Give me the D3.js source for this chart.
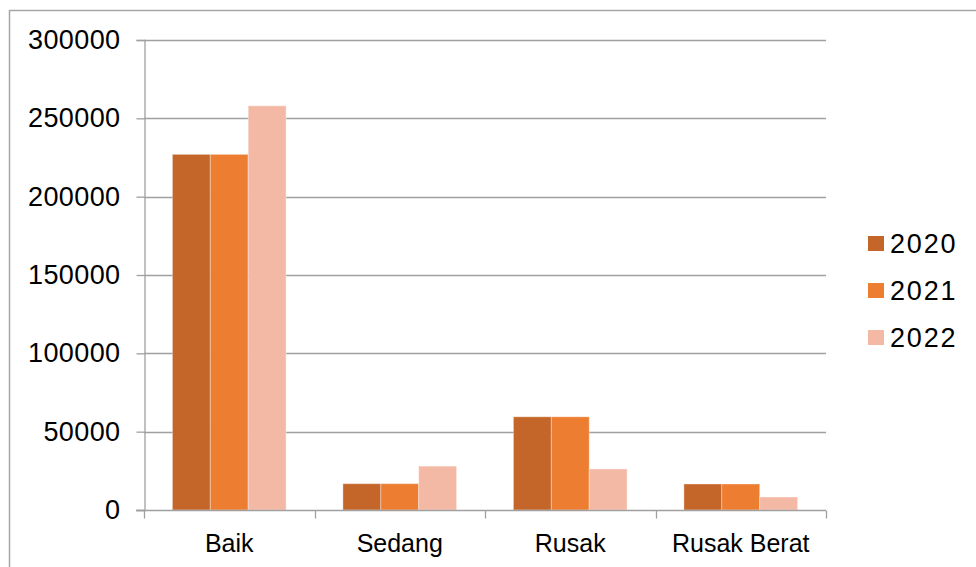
<!DOCTYPE html>
<html>
<head>
<meta charset="utf-8">
<script src="https://cdn.jsdelivr.net/npm/d3@7"></script>
<style>
  html, body { margin: 0; padding: 0; background: #fff; }
  svg { display: block; font-family: "Liberation Sans", Arial, sans-serif; }
</style>
</head>
<body>
<svg id="chart" width="976" height="567"></svg>
<script>
// Road condition categories and yearly values
const categories = ["Baik", "Sedang", "Rusak", "Rusak Berat"];
const years = ["2020", "2021", "2022"];
const values2020 = [227000, 16800, 59500, 16600];
const values2021 = [227000, 16800, 59500, 16600];
const values2022 = [258000, 28000, 26200, 8300];
const yTicks = [0, 50000, 100000, 150000, 200000, 250000, 300000];
const colors = ["#c4662a", "#ed7d31", "#f4b9a5"];

const seriesValues = [values2020, values2021, values2022];
const rows = categories.map((c, i) => ({
  category: c,
  values: years.map((y, j) => ({ year: y, value: seriesValues[j][i], idx: j }))
}));

const svg = d3.select("#chart");
const margin = { left: 144, right: 826, top: 40, bottom: 510 };

// Chart frame
svg.append("rect")
  .attr("x", 9.5).attr("y", 10.5)
  .attr("width", 1000).attr("height", 600)
  .attr("fill", "none").attr("stroke", "#a6a6a6").attr("stroke-width", 1.5);

const x = d3.scaleBand()
  .domain(categories)
  .range([margin.left, margin.right])
  .paddingInner(1 / 3)
  .paddingOuter(1 / 6);

const xSub = d3.scaleBand()
  .domain(years)
  .range([0, x.bandwidth()]);

const y = d3.scaleLinear()
  .domain([0, 300000])
  .range([margin.bottom, margin.top]);

// Horizontal gridlines
svg.append("g")
  .selectAll("line")
  .data(yTicks.filter(t => t > 0))
  .join("line")
  .attr("x1", margin.left).attr("x2", margin.right)
  .attr("y1", d => Math.round(y(d)) + 0.5).attr("y2", d => Math.round(y(d)) + 0.5)
  .attr("stroke", "#a0a0a0").attr("stroke-width", 1.3);

// Bars
svg.append("g")
  .selectAll("g")
  .data(rows)
  .join("g")
  .attr("transform", d => `translate(${x(d.category)},0)`)
  .selectAll("rect")
  .data(d => d.values)
  .join("rect")
  .attr("x", d => xSub(d.year))
  .attr("width", xSub.bandwidth())
  .attr("y", d => y(d.value))
  .attr("height", d => y(0) - y(d.value))
  .attr("fill", d => colors[d.idx])
  .attr("stroke", "#ffffff").attr("stroke-opacity", 0.35).attr("stroke-width", 1);

// Y axis
const yAxis = d3.axisLeft(y)
  .tickValues(yTicks)
  .tickFormat(d3.format("d"))
  .tickSize(8)
  .tickPadding(16);

const yg = svg.append("g")
  .attr("transform", `translate(${margin.left + 0.5},0)`)
  .call(yAxis);
yg.select(".domain").attr("stroke", "#a0a0a0").attr("stroke-width", 1.3);
yg.selectAll(".tick line").attr("stroke", "#a0a0a0").attr("stroke-width", 1.3);
yg.selectAll(".tick text")
  .attr("font-size", 27).attr("fill", "#000")
  .attr("letter-spacing", 0.4)
  .attr("font-family", "Liberation Sans, Arial, sans-serif");

// X axis with ticks between categories
const xg = svg.append("g")
  .attr("transform", `translate(0,${margin.bottom + 0.5})`);
xg.append("line")
  .attr("x1", margin.left - 8).attr("x2", margin.right)
  .attr("stroke", "#a0a0a0").attr("stroke-width", 1.3);
const boundaries = categories.map(c => x(c) - x.step() * x.paddingInner() / 2)
  .concat([margin.right]);
xg.selectAll(".bt")
  .data(boundaries)
  .join("line")
  .attr("class", "bt")
  .attr("x1", d => Math.round(d) + 0.5).attr("x2", d => Math.round(d) + 0.5)
  .attr("y1", 0).attr("y2", 8)
  .attr("stroke", "#a0a0a0").attr("stroke-width", 1.3);
xg.selectAll(".cat")
  .data(categories)
  .join("text")
  .attr("class", "cat")
  .attr("x", d => x(d) + x.bandwidth() / 2)
  .attr("y", 41)
  .attr("text-anchor", "middle")
  .attr("font-size", 25)
  .attr("fill", "#000")
  .text(d => d);

// Legend
const legend = svg.append("g")
  .selectAll("g")
  .data(years)
  .join("g")
  .attr("transform", (d, i) => `translate(868,${236 + i * 47})`);
legend.append("rect")
  .attr("width", 16).attr("height", 15)
  .attr("fill", (d, i) => colors[i]);
legend.append("text")
  .attr("x", 22).attr("y", 7.5)
  .attr("dy", "0.36em")
  .attr("font-size", 27)
  .attr("letter-spacing", 1.8)
  .attr("fill", "#000")
  .text(d => d);
</script>
</body>
</html>
